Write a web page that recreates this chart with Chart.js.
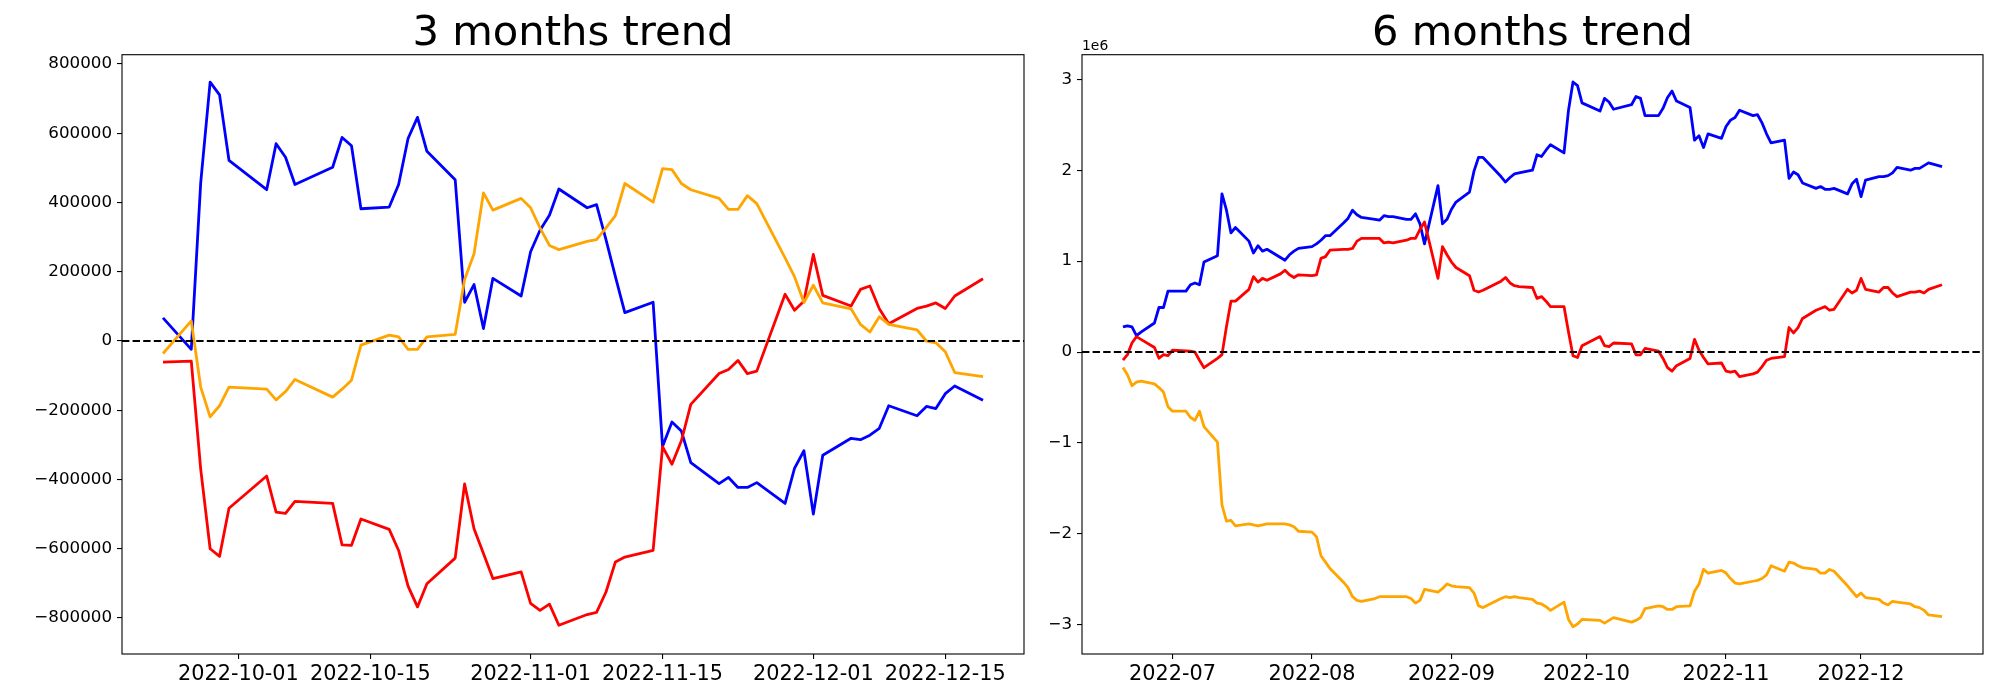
<!DOCTYPE html>
<html>
<head>
<meta charset="utf-8">
<script src="https://cdn.jsdelivr.net/npm/chart.js@4.4.1/dist/chart.umd.min.js"></script>
<style>
  html, body { margin: 0; background: #fff; }
  #wrap { position: relative; width: 2000px; height: 700px; }
  canvas { position: absolute; top: 0; }
  #chart-3m { left: 0; }
  #chart-6m { left: 1050px; }
</style>
</head>
<body>
<div id="wrap">
  <canvas id="chart-3m" width="1050" height="700"></canvas>
  <canvas id="chart-6m" width="950" height="700"></canvas>
</div>
<script>
// 3 months: trading days counted from START_3M
const START_3M = '2022-09-23'
const DAYS_3M = [
  0, 3, 4, 5, 6, 7,
  11, 12, 13, 14,
  18, 19, 20, 21,
  24, 25, 26, 27, 28,
  31, 32, 33, 34, 35,
  38, 39, 40, 41, 42,
  45, 46, 47, 48, 49,
  52, 53, 54, 55, 56,
  59, 60, 61, 62, 63,
  66, 67, 68, 69, 70,
  73, 74, 75, 76, 77,
  80, 81, 82, 83, 84,
  87,
]
const BLUE_3M = [
  67000, -24000, 457000, 748000, 711000, 522000,
  437000, 570000, 531000, 452000,
  502000, 588000, 564000, 382000,
  387000, 452000, 585000, 646000, 548000,
  466000, 112000, 163000, 36000, 181000,
  130000, 258000, 320000, 363000, 439000,
  385000, 394000, 293000, 186000, 82000,
  112000, -305000, -234000, -260000, -351000,
  -412000, -394000, -423000, -423000, -409000,
  -469000, -368000, -317000, -500000, -330000,
  -281000, -285000, -272000, -252000, -187000,
  -216000, -189000, -195000, -152000, -130000,
  -171000,
]
const RED_3M = [
  -61000, -58000, -370000, -600000, -622000, -483000,
  -390000, -494000, -498000, -463000,
  -469000, -589000, -590000, -514000,
  -544000, -605000, -708000, -768000, -701000,
  -627000, -413000, -542000, -614000, -686000,
  -667000, -758000, -778000, -760000, -821000,
  -790000, -784000, -725000, -638000, -624000,
  -605000, -305000, -356000, -288000, -183000,
  -94000, -82000, -56000, -94000, -87000,
  135000, 89000, 115000, 250000, 132000,
  101000, 149000, 159000, 93000, 50000,
  94000, 101000, 110000, 94000, 130000,
  180000,
]
const ORANGE_3M = [
  -36000, 58000, -133000, -219000, -187000, -133000,
  -139000, -170000, -146000, -111000,
  -162000, -139000, -113000, -12000,
  17000, 12000, -24000, -24000, 12000,
  19000, 178000, 252000, 428000, 378000,
  412000, 385000, 327000, 276000, 264000,
  288000, 293000, 327000, 362000, 455000,
  401000, 498000, 495000, 455000, 437000,
  412000, 380000, 380000, 420000, 397000,
  240000, 186000, 111000, 161000, 110000,
  93000, 48000, 26000, 70000, 48000,
  32000, 0, -5000, -31000, -91000,
  -103000,
]
const TICKS_X_3M = ['2022-10-01', '2022-10-15', '2022-11-01', '2022-11-15', '2022-12-01', '2022-12-15']
const TICKS_Y_3M = [-800000, -600000, -400000, -200000, 0, 200000, 400000, 600000, 800000]

// 6 months: values in millions (axis offset 1e6)
const START_6M = '2022-06-20'
const DAYS_6M = [
  0, 1, 2, 3, 4,
  7, 8, 9, 10, 11,
  14, 15, 16, 17, 18,
  21, 22, 23, 24, 25,
  28, 29, 30, 31, 32,
  35, 36, 37, 38, 39,
  42, 43, 44, 45, 46,
  49, 50, 51, 52, 53,
  56, 57, 58, 59, 60,
  63, 64, 65, 66, 67,
  70, 71, 72, 73, 74,
  77, 78, 79, 80,
  84, 85, 86, 87, 88,
  91, 92, 93, 94, 95,
  98, 99, 100, 101, 102,
  106, 107, 108, 109,
  113, 114, 115, 116,
  119, 120, 121, 122, 123,
  126, 127, 128, 129, 130,
  133, 134, 135, 136, 137,
  140, 141, 142, 143, 144,
  147, 148, 149, 150, 151,
  154, 155, 156, 157, 158,
  161, 162, 163, 164, 165,
  168, 169, 170, 171, 172,
  175, 176, 177, 178, 179,
  182,
]
const BLUE_6M = [
  0.276, 0.288, 0.276, 0.18, 0.22,
  0.32, 0.49, 0.49, 0.67, 0.67,
  0.67, 0.74, 0.76, 0.74, 0.99,
  1.06, 1.74, 1.56, 1.31, 1.37,
  1.22, 1.09, 1.17, 1.11, 1.13,
  1.04, 1.01, 1.07, 1.11, 1.14,
  1.16, 1.19, 1.23, 1.28, 1.28,
  1.42, 1.47, 1.56, 1.51, 1.48,
  1.46, 1.45, 1.50, 1.49, 1.49,
  1.46, 1.46, 1.52, 1.41, 1.19,
  1.83, 1.41, 1.46, 1.57, 1.65,
  1.76, 1.99, 2.14, 2.14,
  1.93, 1.87, 1.92, 1.96, 1.97,
  2.00, 2.17, 2.15, 2.22, 2.28,
  2.19, 2.66, 2.97, 2.93, 2.74,
  2.65, 2.79, 2.75, 2.67,
  2.72, 2.81, 2.79, 2.60,
  2.60, 2.68, 2.80, 2.87, 2.76,
  2.69, 2.33, 2.38, 2.25, 2.40,
  2.35, 2.48, 2.55, 2.58, 2.66,
  2.60, 2.61, 2.52, 2.40, 2.30,
  2.33, 1.91, 1.98, 1.95, 1.86,
  1.80, 1.82, 1.79, 1.79, 1.80,
  1.74, 1.85, 1.90, 1.71, 1.89,
  1.93, 1.93, 1.94, 1.97, 2.03,
  2.00, 2.02, 2.02, 2.05, 2.08,
  2.04,
]
const RED_6M = [
  -0.088, -0.028, 0.10, 0.17, 0.14,
  0.05, -0.068, -0.028, -0.04, 0.02,
  0.012, 0.01, 0.0, -0.09, -0.172,
  -0.07, -0.028, 0.28, 0.56, 0.56,
  0.69, 0.83, 0.77, 0.81, 0.79,
  0.86, 0.90, 0.85, 0.82, 0.85,
  0.84, 0.85, 1.03, 1.05, 1.12,
  1.13, 1.13, 1.14, 1.22, 1.25,
  1.25, 1.25, 1.20, 1.21, 1.20,
  1.23, 1.25, 1.25, 1.35, 1.43,
  0.81, 1.16, 1.07, 0.99, 0.93,
  0.84, 0.68, 0.66, 0.68,
  0.78, 0.82, 0.76, 0.73, 0.72,
  0.71, 0.59, 0.61, 0.56, 0.50,
  0.50, 0.22, -0.04, -0.06, 0.07,
  0.17, 0.07, 0.06, 0.10,
  0.09, -0.03, -0.03, 0.04,
  0.01, -0.07, -0.17, -0.21, -0.15,
  -0.07, 0.14, 0.02, -0.06, -0.13,
  -0.12, -0.21, -0.22, -0.21, -0.27,
  -0.24, -0.22, -0.16, -0.09, -0.07,
  -0.05, 0.27, 0.21, 0.27, 0.37,
  0.46, 0.48, 0.50, 0.46, 0.47,
  0.69, 0.65, 0.68, 0.81, 0.69,
  0.66, 0.71, 0.71, 0.65, 0.61,
  0.66, 0.66, 0.67, 0.65, 0.69,
  0.74,
]
const ORANGE_6M = [
  -0.17, -0.25, -0.37, -0.33, -0.32,
  -0.35, -0.39, -0.44, -0.60, -0.65,
  -0.65, -0.72, -0.75, -0.65, -0.82,
  -0.99, -1.68, -1.86, -1.85, -1.91,
  -1.89, -1.90, -1.91, -1.90, -1.89,
  -1.89, -1.89, -1.90, -1.92, -1.97,
  -1.98, -2.03, -2.24, -2.31, -2.38,
  -2.53, -2.59, -2.69, -2.73, -2.74,
  -2.71, -2.69, -2.69, -2.69, -2.69,
  -2.69, -2.71, -2.76, -2.73, -2.61,
  -2.64, -2.60, -2.55, -2.57, -2.58,
  -2.59, -2.65, -2.79, -2.81,
  -2.71, -2.69, -2.70, -2.69, -2.70,
  -2.72, -2.76, -2.77, -2.80, -2.84,
  -2.75, -2.94, -3.02, -2.99, -2.94,
  -2.95, -2.98, -2.95, -2.92,
  -2.97, -2.95, -2.92, -2.82,
  -2.79, -2.80, -2.83, -2.83, -2.80,
  -2.79, -2.63, -2.55, -2.39, -2.43,
  -2.40, -2.43, -2.49, -2.54, -2.55,
  -2.52, -2.51, -2.49, -2.45, -2.35,
  -2.41, -2.31, -2.32, -2.35, -2.37,
  -2.39, -2.43, -2.43, -2.39, -2.41,
  -2.57, -2.63, -2.69, -2.65, -2.70,
  -2.72, -2.76, -2.78, -2.74, -2.75,
  -2.77, -2.80, -2.81, -2.84, -2.89,
  -2.91,
]
const TICKS_X_6M = ['2022-07', '2022-08', '2022-09', '2022-10', '2022-11', '2022-12']
const TICKS_Y_6M = [-3, -2, -1, 0, 1, 2, 3]

const COLORS = { blue: '#0000ff', red: '#ff0000', orange: '#ffa500' }
const FONT = "'DejaVu Sans', sans-serif"

Chart.defaults.font.family = FONT
Chart.defaults.color = '#000'

// day number since epoch; 'YYYY-MM' means the first of the month
const dayNum = s => {
  const [y, m, d] = s.split('-').map(Number)
  return Date.UTC(y, m - 1, d || 1) / 864e5
}
const minus = v => String(v).replace('-', '\u2212')

// axes box like matplotlib spines
const frame = {
  id: 'frame',
  afterDraw(chart) {
    const { ctx, chartArea: a } = chart
    ctx.save()
    ctx.strokeStyle = '#000'
    ctx.lineWidth = 1.1
    ctx.strokeRect(a.left, a.top, a.right - a.left, a.bottom - a.top)
    ctx.restore()
  },
}

const offsetText = text => ({
  id: 'offsetText',
  afterDraw(chart) {
    const { ctx, chartArea: a } = chart
    ctx.save()
    ctx.font = `13.9px ${FONT}`
    ctx.fillStyle = '#000'
    ctx.textAlign = 'left'
    ctx.textBaseline = 'alphabetic'
    ctx.fillText(text, a.left, a.top - 4.5)
    ctx.restore()
  },
})

function trendChart(id, o) {
  const start = dayNum(o.start)
  const xs = o.days.map(d => start + d)
  const first = xs[0], last = xs[xs.length - 1]
  const pad = (last - first) * 0.05
  const xmin = first - pad, xmax = last + pad

  const line = (values, color, order) => ({
    data: xs.map((x, i) => ({ x, y: values[i] })),
    borderColor: color, borderWidth: 2.8, pointRadius: 0,
    borderJoinStyle: 'round', tension: 0, order,
  })

  const tickX = o.ticksX.map(dayNum)

  return new Chart(document.getElementById(id), {
    type: 'line',
    data: {
      datasets: [
        { data: [{ x: xmin, y: 0 }, { x: xmax, y: 0 }], borderColor: '#000',
          borderWidth: 2, borderDash: [7.4, 3.2], pointRadius: 0, order: 0 },
        line(o.blue, COLORS.blue, 3),
        line(o.red, COLORS.red, 2),
        line(o.orange, COLORS.orange, 1),
      ],
    },
    plugins: o.plugins,
    options: {
      responsive: false, animation: false, devicePixelRatio: 1,
      layout: { padding: { left: 0, right: o.padRight, top: 0, bottom: 0 } },
      plugins: {
        legend: { display: false },
        tooltip: { enabled: false },
        title: {
          display: true, text: o.title, fullSize: false, color: '#000',
          font: { size: 41.7, weight: 'normal', lineHeight: 1 },
          padding: { top: 13, bottom: 0 },
        },
      },
      scales: {
        x: {
          type: 'linear', min: xmin, max: xmax,
          afterBuildTicks: s => { s.ticks = tickX.map(value => ({ value })) },
          afterFit: s => { s.height = 46 },
          ticks: { callback: (v, i) => o.ticksX[i], font: { size: 20.8 },
                   padding: 3, maxRotation: 0, autoSkip: false },
          grid: { drawOnChartArea: false, tickLength: 5, color: '#000', lineWidth: 1.1 },
          border: { display: false },
        },
        y: {
          type: 'linear', min: o.ymin, max: o.ymax,
          afterBuildTicks: s => { s.ticks = o.ticksY.map(value => ({ value })) },
          afterFit: s => { s.width = o.yWidth },
          ticks: { callback: v => minus(v), font: { size: 16.7 }, padding: 5, autoSkip: false },
          grid: { drawOnChartArea: false, tickLength: 5, color: '#000', lineWidth: 1.1 },
          border: { display: false },
        },
      },
    },
  })
}

trendChart('chart-3m', {
  title: '3 months trend', start: START_3M, days: DAYS_3M,
  blue: BLUE_3M, red: RED_3M, orange: ORANGE_3M,
  ticksX: TICKS_X_3M, ticksY: TICKS_Y_3M,
  ymin: -904000, ymax: 827000, yWidth: 122, padRight: 26,
  plugins: [frame],
})

trendChart('chart-6m', {
  title: '6 months trend', start: START_6M, days: DAYS_6M,
  blue: BLUE_6M, red: RED_6M, orange: ORANGE_6M,
  ticksX: TICKS_X_6M, ticksY: TICKS_Y_6M,
  ymin: -3.32, ymax: 3.27, yWidth: 32, padRight: 17,
  plugins: [frame, offsetText('1e6')],
})
</script>
</body>
</html>
